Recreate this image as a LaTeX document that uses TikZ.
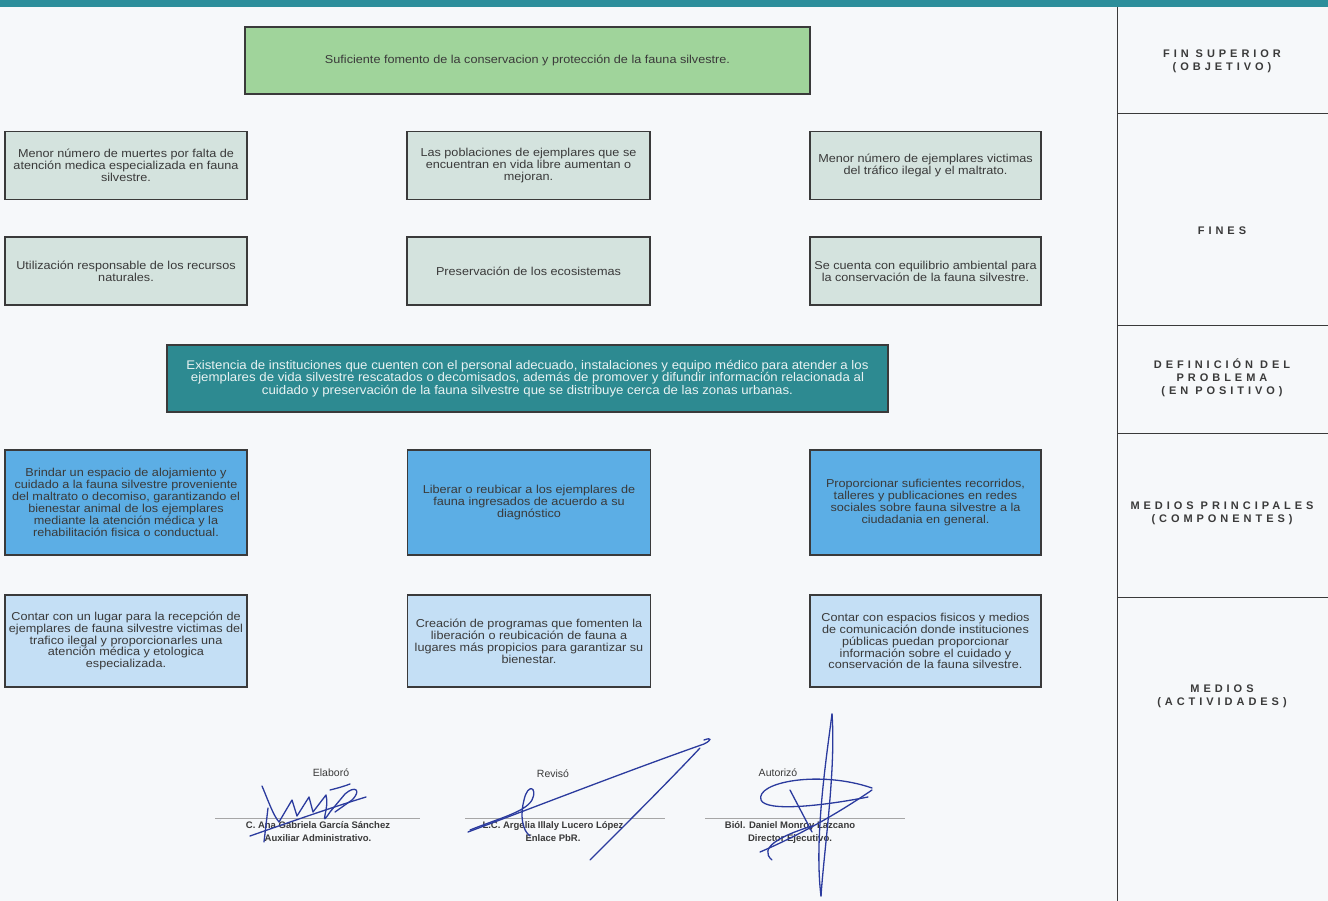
\documentclass[tikz,border=0pt]{standalone}
\usepackage{fontspec}
\setmainfont{Liberation Sans}
\newfontfamily\lblfont[LetterSpace=36]{Liberation Sans}
\newfontfamily\boxfont[FakeStretch=1.1]{Liberation Sans}
\newfontfamily\probfont[FakeStretch=1.06]{Liberation Sans}
\definecolor{bgc}{HTML}{F6F8FA}
\definecolor{barc}{HTML}{2C8E9B}
\definecolor{greenc}{HTML}{A0D49B}
\definecolor{finc}{HTML}{D4E3DE}
\definecolor{probc}{HTML}{2D8A91}
\definecolor{probtxt}{HTML}{E8F2F2}
\definecolor{compc}{HTML}{5CAEE5}
\definecolor{actc}{HTML}{C4DFF5}
\definecolor{bordc}{HTML}{3A3A3A}
\definecolor{txtc}{HTML}{3A3A3A}
\definecolor{sigc}{HTML}{2B3B9E}
\begin{document}
\begin{tikzpicture}[x=1pt,y=-1pt,
  box/.style={draw=bordc,line width=1.2pt,align=center,inner sep=2pt,
    font=\boxfont\fontsize{11.5}{11.9}\selectfont,text=txtc},
  finbox/.style={box,fill=finc,minimum height=68pt},
  compbox/.style={box,fill=compc,minimum height=105pt},
  actbox/.style={box,fill=actc,minimum height=92pt},
  lbl/.style={align=center,text=txtc,font=\lblfont\bfseries\fontsize{11}{12.8}\selectfont},
  sig/.style={align=center,text=txtc,font=\bfseries\fontsize{9.5}{13}\selectfont},
  sigttl/.style={text=txtc,font=\fontsize{10.5}{12}\selectfont},
  rule/.style={draw=bordc,line width=0.9pt},
  sigline/.style={draw=gray!70,line width=0.6pt},
  pen/.style={draw=sigc,line width=1.3pt,line cap=round,line join=round}
]
\fill[bgc] (0,0) rectangle (1328,901);
\useasboundingbox (0,0) rectangle (1328,901);
% top bar
\fill[barc] (0,0) rectangle (1328,7);
% right column
\coordinate (vt) at (1117,7);
\coordinate (vb) at (1117,901);
\draw[rule] (vt) -- (vb);
\coordinate (h1a) at (1117,113); \coordinate (h1b) at (1328,113);
\coordinate (h2a) at (1117,325); \coordinate (h2b) at (1328,325);
\coordinate (h3a) at (1117,433); \coordinate (h3b) at (1328,433);
\coordinate (h4a) at (1117,597); \coordinate (h4b) at (1328,597);
\draw[rule] (h1a) -- (h1b);
\draw[rule] (h2a) -- (h2b);
\draw[rule] (h3a) -- (h3b);
\draw[rule] (h4a) -- (h4b);
\node[lbl] (l1) at (1222,61) {FIN SUPERIOR\\(OBJETIVO)};
\node[lbl] (l2) at (1222,231) {FINES};
\node[lbl] (l3) at (1222,378) {DEFINICIÓN DEL\\PROBLEMA\\(EN POSITIVO)};
\node[lbl] (l4) at (1222,513) {MEDIOS PRINCIPALES\\(COMPONENTES)};
\node[lbl] (l5) at (1222,696) {MEDIOS\\(ACTIVIDADES)};
% objective
\node[box,fill=greenc,minimum width=565pt,minimum height=67pt] (obj) at (527.5,60.5)
  {Suficiente fomento de la conservacion y protección de la fauna silvestre.};
% fines
\node[finbox,minimum width=242pt] (f1) at (126,165.5)
  {Menor número de muertes por falta de\\atención medica especializada en fauna\\silvestre.};
\node[finbox,minimum width=243pt] (f2) at (528.5,165.5)
  {Las poblaciones de ejemplares que se\\encuentran en vida libre aumentan o\\mejoran.};
\node[finbox,minimum width=231pt] (f3) at (925.5,165.5)
  {Menor número de ejemplares victimas\\del tráfico ilegal y el maltrato.};
\node[finbox,minimum width=242pt] (f4) at (126,271)
  {Utilización responsable de los recursos\\naturales.};
\node[finbox,minimum width=243pt] (f5) at (528.5,271)
  {Preservación de los ecosistemas};
\node[finbox,minimum width=231pt] (f6) at (925.5,271)
  {Se cuenta con equilibrio ambiental para\\la conservación de la fauna silvestre.};
% problem
\node[box,fill=probc,text=probtxt,minimum width=721pt,minimum height=67pt,
  font=\probfont\fontsize{12.5}{12.6}\selectfont] (prob) at (527.5,378.5)
  {Existencia de instituciones que cuenten con el personal adecuado, instalaciones y equipo médico para atender a los\\
   ejemplares de vida silvestre rescatados o decomisados, además de promover y difundir información relacionada al\\
   cuidado y preservación de la fauna silvestre que se distribuye cerca de las zonas urbanas.};
% components
\node[compbox,minimum width=242pt] (c1) at (126,502.5)
  {Brindar un espacio de alojamiento y\\cuidado a la fauna silvestre proveniente\\del maltrato o decomiso, garantizando el\\bienestar animal de los ejemplares\\mediante la atención médica y la\\rehabilitación fisica o conductual.};
\node[compbox,minimum width=243pt] (c2) at (529,502.5)
  {Liberar o reubicar a los ejemplares de\\fauna ingresados de acuerdo a su\\diagnóstico};
\node[compbox,minimum width=231pt] (c3) at (925.5,502.5)
  {Proporcionar suficientes recorridos,\\talleres y publicaciones en redes\\sociales sobre fauna silvestre a la\\ciudadania en general.};
% activities
\node[actbox,minimum width=242pt] (a1) at (126,641)
  {Contar con un lugar para la recepción de\\ejemplares de fauna silvestre victimas del\\trafico ilegal y proporcionarles una\\atención médica y etologica\\especializada.};
\node[actbox,minimum width=243pt] (a2) at (529,641)
  {Creación de programas que fomenten la\\liberación o reubicación de fauna a\\lugares más propicios para garantizar su\\bienestar.};
\node[actbox,minimum width=231pt] (a3) at (925.5,641)
  {Contar con espacios fisicos y medios\\de comunicación donde instituciones\\públicas puedan proporcionar\\información sobre el cuidado y\\conservación de la fauna silvestre.};
% signatures block
\node[sigttl] (t1) at (331,773) {Elaboró};
\node[sigttl] (t2) at (553,774) {Revisó};
\node[sigttl] (t3) at (778,773) {Autorizó};
\coordinate (s1a) at (215,818); \coordinate (s1b) at (420,818);
\coordinate (s2a) at (465,818); \coordinate (s2b) at (665,818);
\coordinate (s3a) at (705,818); \coordinate (s3b) at (905,818);
\draw[sigline] (s1a) -- (s1b);
\draw[sigline] (s2a) -- (s2b);
\draw[sigline] (s3a) -- (s3b);
\node[sig] (n1) at (318,832) {C. Ana Gabriela García Sánchez\\Auxiliar Administrativo.};
\node[sig] (n2) at (553,832) {L.C. Argelia Illaly Lucero López\\Enlace PbR.};
\node[sig] (n3) at (790,832) {Biól. Daniel Monroy Lazcano\\Director Ejecutivo.};
% pen strokes
\draw[pen] (262,786) .. controls (268,800) and (273,815) .. (279,822)
  -- (292,800) -- (297,816) -- (309,797) -- (313,812) -- (326,795)
  .. controls (330,808) and (318,830) .. (330,812) -- (345,794)
  .. controls (355,785) and (362,790) .. (352,800) -- (335,812);
\draw[pen] (250,836) .. controls (290,822) and (330,808) .. (366,797);
\draw[pen] (268,808) -- (264,842);
\draw[pen] (330,790) .. controls (338,788) and (345,786) .. (350,784);
\draw[pen] (468,832) .. controls (540,805) and (630,770) .. (704,744)
  .. controls (712,740) and (712,737) .. (704,740);
\draw[pen] (700,748) .. controls (670,780) and (625,825) .. (590,860);
\draw[pen] (470,830) .. controls (500,818) and (525,812) .. (532,800)
  .. controls (538,788) and (528,782) .. (524,800)
  .. controls (520,815) and (522,830) .. (530,836);
\draw[pen] (832,714) .. controls (826,760) and (814,840) .. (821,896);
\draw[pen] (821,896) .. controls (824,850) and (836,770) .. (832,714);
\draw[pen] (872,788) .. controls (820,770) and (755,782) .. (761,800)
  .. controls (766,812) and (822,806) .. (868,797);
\draw[pen] (790,790) -- (812,832);
\draw[pen] (760,852) .. controls (800,835) and (840,812) .. (872,790);
\draw[pen] (772,860) .. controls (758,848) and (780,836) .. (812,826);
\end{tikzpicture}
\end{document}
